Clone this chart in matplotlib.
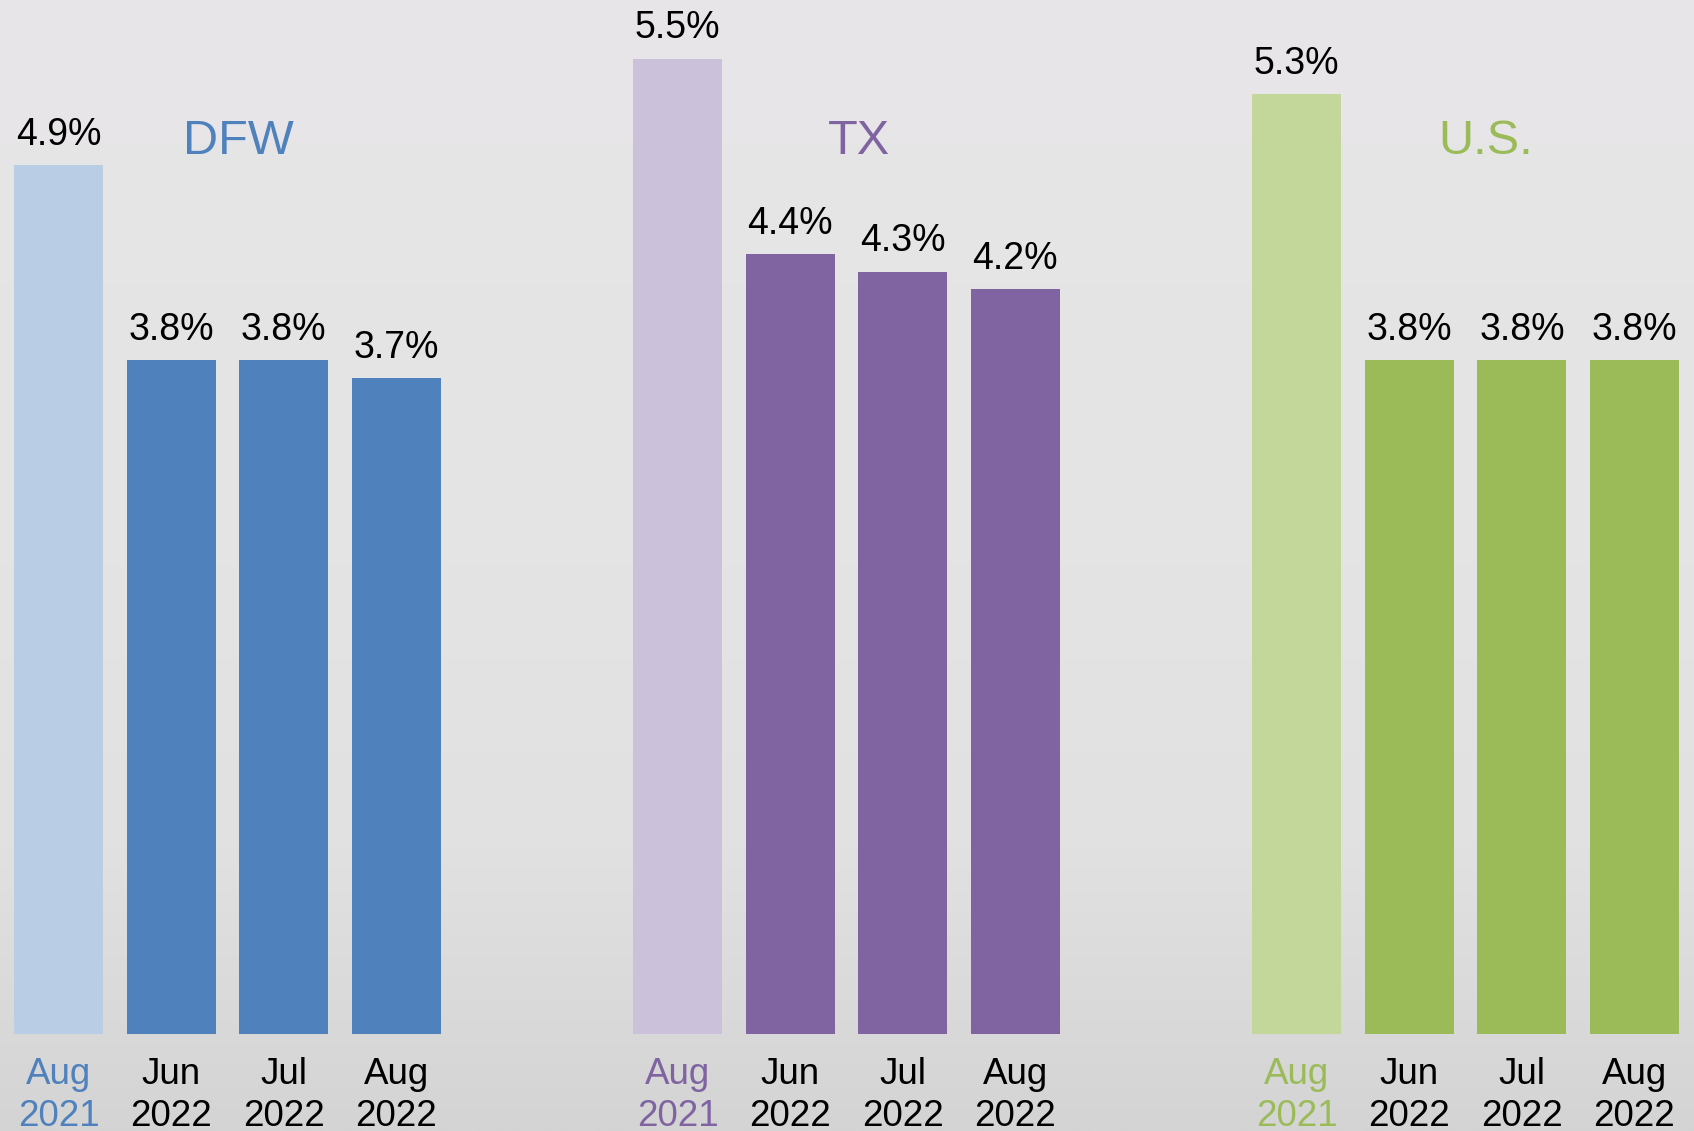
import numpy as np
import matplotlib
matplotlib.use("Agg")
import matplotlib.pyplot as plt

# Dane: stopa bezrobocia
regions = ["DFW", "TX", "U.S."]
months = ["Aug", "Jun", "Jul", "Aug"]
years = ["2021", "2022", "2022", "2022"]
dfw_values = [4.9, 3.8, 3.8, 3.7]
tx_values = [5.5, 4.4, 4.3, 4.2]
us_values = [5.3, 3.8, 3.8, 3.8]

dark_colors = ["#4F81BD", "#8064A2", "#9BBB59"]
light_colors = ["#B9CDE5", "#CCC1DA", "#C4D79B"]

plt.rcParams["font.family"] = ["Liberation Sans", "DejaVu Sans"]

fig = plt.figure(figsize=(16.94, 11.31), dpi=100)
ax = fig.add_axes([0, 0, 1, 1])
ax.axis("off")

x_left, x_right = -0.5197, 14.529
y_bottom, y_top = -0.547, 5.832

# gradientowe tlo
rows = np.linspace(0, 1, 400)
stops = [0.0, 0.5, 0.75, 1.0]
shade = np.stack([
    np.interp(rows, stops, [232, 228, 225, 212]),
    np.interp(rows, stops, [230, 228, 225, 212]),
    np.interp(rows, stops, [232, 228, 225, 212]),
], axis=1) / 255.0
ax.imshow(shade[:, None, :], extent=[x_left, x_right, y_bottom, y_top],
          aspect="auto", zorder=0, origin="upper")

group_step = 5.5
bar_width = 0.79
title_offsets = [1.60, 1.61, 1.68]
all_values = [dfw_values, tx_values, us_values]

for g, (name, vals) in enumerate(zip(regions, all_values)):
    xs = g * group_step + np.arange(len(vals))
    colors = [light_colors[g]] + [dark_colors[g]] * (len(vals) - 1)
    ax.bar(xs, vals, width=bar_width, color=colors, zorder=2)

    for i, (x, v) in enumerate(zip(xs, vals)):
        ax.text(x, v + 0.115, f"{v:.1f}%", ha="center", va="baseline",
                fontsize=27, color="black", zorder=3)
        lbl_color = dark_colors[g] if i == 0 else "black"
        ax.text(x, -0.282, months[i], ha="center", va="baseline",
                fontsize=26.5, color=lbl_color, zorder=3)
        ax.text(x, -0.519, years[i], ha="center", va="baseline",
                fontsize=26.5, color=lbl_color, zorder=3)

    ax.text(g * group_step + title_offsets[g], 4.963, name, ha="center",
            va="baseline", fontsize=35, color=dark_colors[g], zorder=3)

ax.set_xlim(x_left, x_right)
ax.set_ylim(y_bottom, y_top)

plt.savefig("out.png", dpi=100)
plt.close()
